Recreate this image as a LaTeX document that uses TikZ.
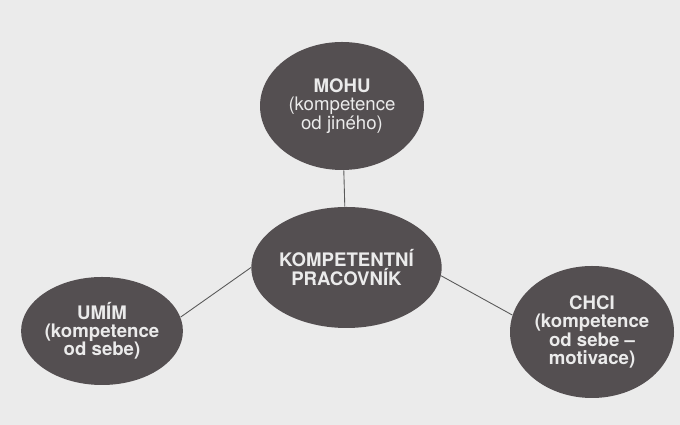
\documentclass[tikz,border=0pt]{standalone}
\usepackage{fontspec}
\newfontfamily\heros{TeX Gyre Heros}
\usepackage{tikz}
\colorlet{paper}{black!8}
\definecolor{darkdisc}{RGB}{84,79,81}
\usetikzlibrary{shapes,backgrounds,positioning}
\tikzstyle{disc}=[draw=none,ellipse,fill=darkdisc,inner sep=0pt,
  text=white!92!black,align=center,font=\heros\bfseries\fontsize{10.6}{10.4}\selectfont]
\tikzstyle{link}=[draw=black!65,line width=.5pt]

\begin{document}
\begin{tikzpicture}[on grid]
  \fill[paper] (0,0) rectangle (13.6,8.5);
  \useasboundingbox (0,0) rectangle (13.6,8.5);
  \node[disc, minimum width=3.34cm, minimum height=2.42cm] (prac) at (6.93,3.15)
  {KOMPETENTNÍ\\PRACOVNÍK};
  \node[disc, minimum width=3.28cm, minimum height=2.56cm, above=3.23cm of prac,
  xshift=-.09cm] (mohu) {MOHU\\{\mdseries(kompetence}\\{\mdseries od jiného)}};
  \node[disc, minimum width=3.2cm, minimum height=2.16cm,
  below left=1.27cm and 4.89cm of prac] (umim)
  {UMÍM\\(kompetence\\od sebe)};
  \node[disc, minimum width=3.28cm, minimum height=2.64cm,
  below right=1.29cm and 4.91cm of prac] (chci)
  {CHCI\\(kompetence\\od sebe –\\motivace)};
  \draw[link] (mohu) -- (prac);
  \draw[link] (umim.10) -- (prac.west);
  \draw[link] (chci.168) -- (prac.355);
\end{tikzpicture}
\end{document}
